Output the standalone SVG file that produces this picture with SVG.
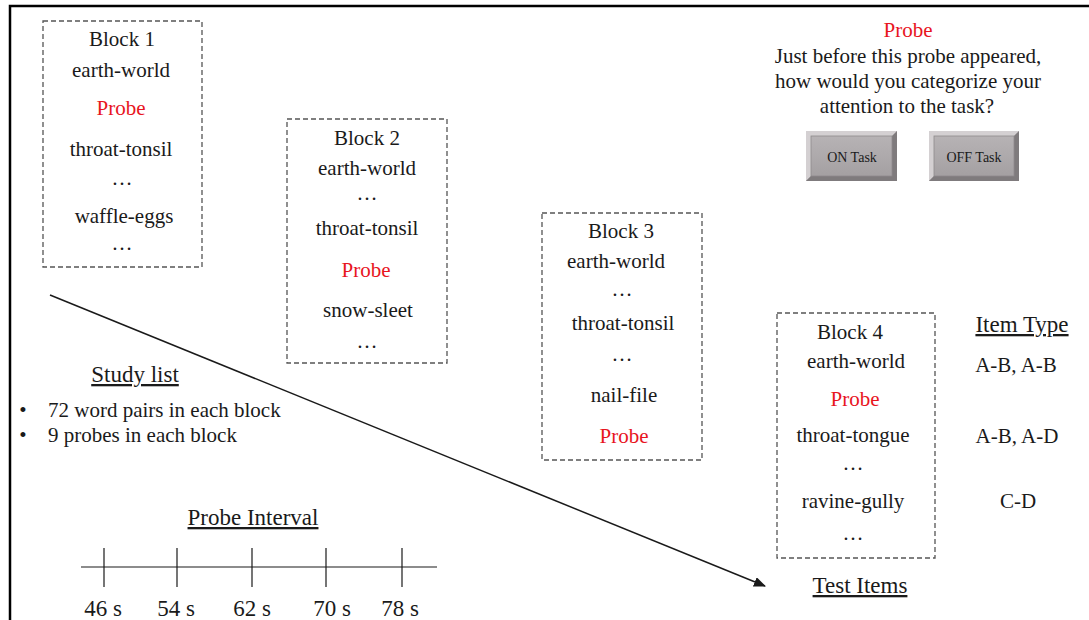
<svg xmlns="http://www.w3.org/2000/svg" width="1089" height="620" viewBox="0 0 1089 620">
<style>
text{font-family:"Liberation Serif","Times New Roman",serif;fill:#1a1a1a;text-anchor:middle}
.t{font-size:21px}
.h{font-size:23px;text-decoration:underline}
.r{fill:#e8141e}
.box{fill:none;stroke:#555;stroke-width:1.3;stroke-dasharray:5,3}
.btn{font-size:14px}
</style>
<defs>
<marker id="ah" markerWidth="12" markerHeight="10" refX="11" refY="5" orient="auto" markerUnits="userSpaceOnUse">
<path d="M0,0 L12,5 L0,10 z" fill="#1a1a1a"/>
</marker>
<linearGradient id="bg" x1="0" y1="0" x2="0" y2="1">
<stop offset="0" stop-color="#b9b5b7"/>
<stop offset="1" stop-color="#a29ea0"/>
</linearGradient>
</defs>
<rect width="1089" height="620" fill="#fff"/>
<path d="M10,620 V6 H1089" fill="none" stroke="#000" stroke-width="2.5"/>

<g id="block1">
<rect class="box" x="43" y="21" width="159" height="246"/>
<text class="t" x="122" y="46">Block 1</text>
<text class="t" x="121" y="77">earth-world</text>
<text class="t r" x="121" y="115">Probe</text>
<text class="t" x="121" y="156">throat-tonsil</text>
<text class="t" x="122" y="185">…</text>
<text class="t" x="124" y="223">waffle-eggs</text>
<text class="t" x="122" y="250">…</text>
</g>

<g id="block2">
<rect class="box" x="287" y="119" width="160" height="244"/>
<text class="t" x="367" y="145">Block 2</text>
<text class="t" x="367" y="175">earth-world</text>
<text class="t" x="367" y="200">…</text>
<text class="t" x="367" y="235">throat-tonsil</text>
<text class="t r" x="366" y="277">Probe</text>
<text class="t" x="368" y="317">snow-sleet</text>
<text class="t" x="367" y="348">…</text>
</g>

<g id="block3">
<rect class="box" x="542" y="213" width="160" height="247"/>
<text class="t" x="621" y="238">Block 3</text>
<text class="t" x="616" y="268">earth-world</text>
<text class="t" x="622" y="296">…</text>
<text class="t" x="623" y="330">throat-tonsil</text>
<text class="t" x="622" y="361">…</text>
<text class="t" x="624" y="402">nail-file</text>
<text class="t r" x="624" y="443">Probe</text>
</g>

<g id="block4">
<rect class="box" x="777" y="313" width="158" height="245"/>
<text class="t" x="850" y="339">Block 4</text>
<text class="t" x="856" y="368">earth-world</text>
<text class="t r" x="855" y="406">Probe</text>
<text class="t" x="853" y="442">throat-tongue</text>
<text class="t" x="853" y="470">…</text>
<text class="t" x="853" y="508">ravine-gully</text>
<text class="t" x="853" y="540">…</text>
</g>

<g id="item-type">
<text class="h" x="1022" y="332">Item Type</text>
<text class="t" x="1016" y="372">A-B, A-B</text>
<text class="t" x="1017" y="443">A-B, A-D</text>
<text class="t" x="1018" y="508">C-D</text>
</g>

<g id="test-items">
<text class="h" x="860" y="593">Test Items</text>
</g>

<g id="probe-screen">
<text class="t r" x="908" y="37">Probe</text>
<text class="t" x="908" y="63">Just before this probe appeared,</text>
<text class="t" x="908" y="88">how would you categorize your</text>
<text class="t" x="907" y="113">attention to the task?</text>
</g>

<g id="on-task">
<rect x="806" y="131" width="91" height="50" fill="url(#bg)"/>
<path d="M806,131 H897 L892,136 H811 V176 L806,181 z" fill="#d4d0d2"/>
<path d="M897,131 V181 H806 L811,176 H892 V136 z" fill="#7f7b7d"/>
<rect x="811" y="136" width="81" height="40" fill="none" stroke="#8e8a8c" stroke-width="0.8"/>
<text class="btn" x="852" y="162">ON Task</text>
</g>

<g id="off-task">
<rect x="929" y="131" width="90" height="50" fill="url(#bg)"/>
<path d="M929,131 H1019 L1014,136 H934 V176 L929,181 z" fill="#d4d0d2"/>
<path d="M1019,131 V181 H929 L934,176 H1014 V136 z" fill="#7f7b7d"/>
<rect x="934" y="136" width="80" height="40" fill="none" stroke="#8e8a8c" stroke-width="0.8"/>
<text class="btn" x="974" y="162">OFF Task</text>
</g>

<g id="study-list">
<text class="h" x="135" y="382">Study list</text>
<text class="t" x="23" y="417">•</text>
<text class="t" x="48" y="417" style="text-anchor:start">72 word pairs in each block</text>
<text class="t" x="23" y="442">•</text>
<text class="t" x="48" y="442" style="text-anchor:start">9 probes in each block</text>
</g>

<g id="probe-interval">
<text class="h" x="253" y="525">Probe Interval</text>
<line x1="81" y1="567" x2="437" y2="567" stroke="#1a1a1a" stroke-width="1.2"/>
<g stroke="#1a1a1a" stroke-width="1.2">
<line x1="104" y1="548" x2="104" y2="587"/>
<line x1="177" y1="548" x2="177" y2="587"/>
<line x1="252" y1="548" x2="252" y2="587"/>
<line x1="326" y1="548" x2="326" y2="587"/>
<line x1="402" y1="548" x2="402" y2="587"/>
</g>
<text class="h" style="text-decoration:none" x="103" y="616">46 s</text>
<text class="h" style="text-decoration:none" x="176" y="616">54 s</text>
<text class="h" style="text-decoration:none" x="252" y="616">62 s</text>
<text class="h" style="text-decoration:none" x="332" y="616">70 s</text>
<text class="h" style="text-decoration:none" x="400" y="616">78 s</text>
</g>

<g id="connectors">
<line x1="50" y1="295" x2="765" y2="586" stroke="#1a1a1a" stroke-width="1.5" marker-end="url(#ah)"/>
</g>
</svg>
